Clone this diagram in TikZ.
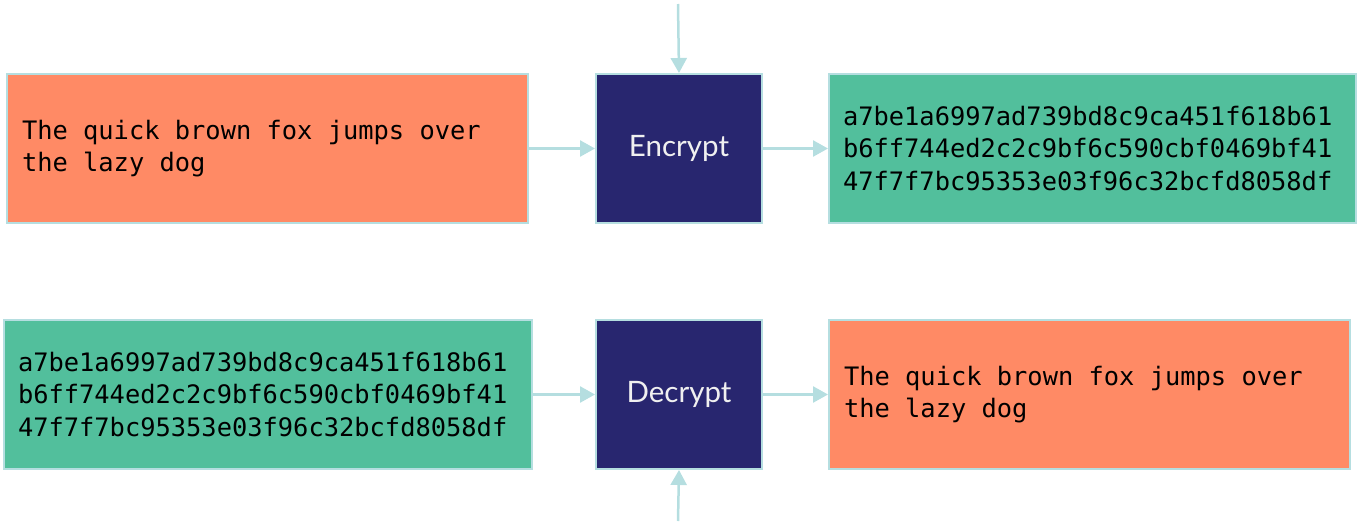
\documentclass[tikz,border=0pt]{standalone}
\usepackage{fontspec}
\usetikzlibrary{arrows.meta}
\newfontfamily\codefont{DejaVu Sans Mono}
\newfontfamily\labelfont{Lato}
\definecolor{plainfill}{HTML}{FF8A65}
\definecolor{cipherfill}{HTML}{52BF9C}
\definecolor{opfill}{HTML}{28266F}
\definecolor{edge}{HTML}{B5DEE0}
% every space as wide as a character of the monospaced font
\newcommand{\fullspaces}{\spaceskip=\fontcharwd\font`x\relax\xspaceskip=\spaceskip}
\tikzset{
  box/.style={draw=edge, line width=2pt, minimum height=149pt, anchor=north west,
    inner ysep=0pt, align=left},
  textbox/.style={box, font=\codefont\fontsize{25.4}{32.5}\selectfont, text=black,
    execute at begin node=\fullspaces},
  plainbox/.style={textbox, fill=plainfill, inner xsep=15pt},
  cipherbox/.style={textbox, fill=cipherfill, inner xsep=14pt},
  opbox/.style={box, fill=opfill, minimum width=166pt, align=center,
    font=\labelfont\fontsize{29.5}{34}\selectfont, text=white!94!black},
  conn/.style={draw=edge, line width=2.5pt, -{Triangle[length=15pt,width=16pt]}}
}
\begin{document}
\begin{tikzpicture}[x=1pt,y=-1pt]
\useasboundingbox (0,0) rectangle (1358,522);

% encryption row
\node[plainbox, text width=491pt] (plainA) at (6,73)
  {The quick brown fox jumps over\\the lazy dog};
\node[opbox] (enc) at (595,73) {Encrypt};
\node[cipherbox, text width=499pt] (cipherA) at (828,73)
  {a7be1a6997ad739bd8c9ca451f618b61\\b6ff744ed2c2c9bf6c590cbf0469bf41\\47f7f7bc95353e03f96c32bcfd8058df};
\coordinate (keyA) at (678,4);

% decryption row
\node[cipherbox, text width=500pt] (cipherB) at (3,319)
  {a7be1a6997ad739bd8c9ca451f618b61\\b6ff744ed2c2c9bf6c590cbf0469bf41\\47f7f7bc95353e03f96c32bcfd8058df};
\node[opbox] (dec) at (595,319) {Decrypt};
\node[plainbox, text width=491pt] (plainB) at (828,319)
  {The quick brown fox jumps over\\the lazy dog};
\coordinate (keyB) at (678,521);

% connectors
\draw[conn] (plainA.east) -- (enc.west);
\draw[conn] (enc.east) -- (cipherA.west);
\draw[conn] (keyA) -- (enc.north);
\draw[conn] (cipherB.east) -- (dec.west);
\draw[conn] (dec.east) -- (plainB.west);
\draw[conn] (keyB) -- (dec.south);
\end{tikzpicture}
\end{document}
